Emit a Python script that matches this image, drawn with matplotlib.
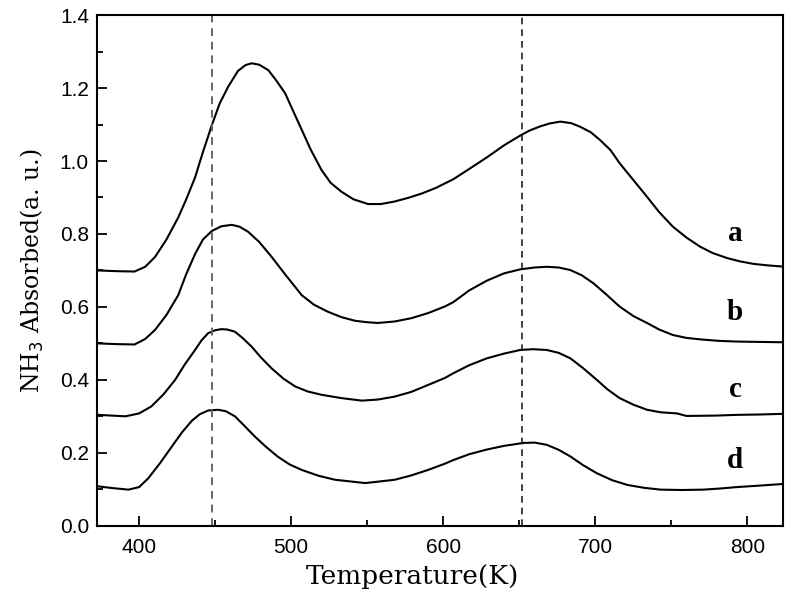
import numpy as np
import matplotlib.pyplot as plt
from matplotlib.ticker import MultipleLocator

plt.rcParams['font.family'] = 'sans-serif'
plt.rcParams['font.sans-serif'] = ['Liberation Sans', 'Arial', 'DejaVu Sans']

# temperature (K) and absorbed NH3 for the four samples
temp_a = [373, 385, 397, 404, 410.5, 418, 425.7, 431, 436.8, 442, 447.8, 453, 458.6, 465, 470, 474,
          479, 485, 490, 496, 501, 507, 513, 520, 526, 533, 541, 550.6, 559, 568, 577, 586, 595,
          606.6, 617, 628.7, 640, 650.7, 657, 663.8, 670, 677, 684, 690, 697, 703, 710, 716, 725,
          734, 742, 751, 760, 769, 777, 786.6, 795, 804, 813, 825]
nh3_a = [0.70, 0.698, 0.697, 0.71, 0.737, 0.785, 0.845, 0.895, 0.955, 1.025, 1.098, 1.158, 1.204,
         1.247, 1.263, 1.268, 1.264, 1.249, 1.222, 1.186, 1.14, 1.085, 1.03, 0.975, 0.94, 0.916,
         0.895, 0.882, 0.882, 0.889, 0.899, 0.911, 0.926, 0.95, 0.978, 1.01, 1.043, 1.07, 1.084,
         1.095, 1.103, 1.108, 1.104, 1.094, 1.079, 1.058, 1.03, 0.994, 0.948, 0.902, 0.86, 0.820,
         0.79, 0.765, 0.748, 0.734, 0.725, 0.718, 0.714, 0.710]

temp_b = [373, 385, 397, 404, 410.5, 418, 425.7, 431, 436.8, 442, 447.8, 454, 461, 466, 471.7, 479,
          487, 497, 507, 515, 524, 533, 542, 550, 557, 568, 579, 590, 601, 606.6, 617, 628.7, 640,
          650.7, 660, 668, 676, 683.6, 691, 698.7, 707, 716, 725, 734, 742, 751, 760, 769, 781, 793,
          808, 825]
nh3_b = [0.50, 0.498, 0.497, 0.512, 0.537, 0.578, 0.632, 0.69, 0.745, 0.785, 0.808, 0.821, 0.825,
         0.82, 0.806, 0.778, 0.738, 0.684, 0.632, 0.606, 0.587, 0.572, 0.562, 0.558, 0.556, 0.56,
         0.569, 0.583, 0.601, 0.613, 0.645, 0.672, 0.692, 0.703, 0.708, 0.710, 0.708, 0.701, 0.687,
         0.665, 0.635, 0.601, 0.575, 0.556, 0.538, 0.523, 0.515, 0.511, 0.507, 0.505, 0.504, 0.503]

temp_c = [373, 382, 391, 400, 408, 416, 423.7, 430, 436.8, 441, 445.4, 450, 454, 458, 463, 468, 474,
          480, 487, 495, 502.6, 511, 520, 533, 546.5, 557, 568, 579, 590, 601, 606.6, 617, 628.7,
          640, 650.7, 659, 668, 676, 683.6, 692, 701, 708, 716, 725, 734, 743, 753.7, 760, 779,
          793, 808, 825]
nh3_c = [0.304, 0.302, 0.300, 0.308, 0.327, 0.36, 0.40, 0.442, 0.482, 0.508, 0.528, 0.536, 0.539,
         0.538, 0.532, 0.515, 0.491, 0.462, 0.432, 0.403, 0.382, 0.368, 0.359, 0.35, 0.343, 0.346,
         0.354, 0.367, 0.386, 0.405, 0.418, 0.44, 0.459, 0.472, 0.482, 0.484, 0.482, 0.474, 0.459,
         0.432, 0.40, 0.374, 0.35, 0.332, 0.318, 0.311, 0.308, 0.301, 0.302, 0.304, 0.305, 0.307]

temp_d = [373, 383, 393, 400, 406, 414, 421.5, 428, 434.7, 440, 445.4, 452, 457, 463, 469, 476, 483,
          491, 499, 507, 518, 529, 548.7, 568, 579, 590, 601, 606.6, 617, 628.7, 640, 652.6, 660,
          668, 676, 683.6, 692, 701, 711, 721, 732, 743, 757, 771, 782, 793, 808, 825]
nh3_d = [0.108, 0.103, 0.099, 0.106, 0.13, 0.173, 0.217, 0.255, 0.288, 0.306, 0.316, 0.318, 0.314,
         0.30, 0.275, 0.245, 0.218, 0.19, 0.168, 0.153, 0.137, 0.126, 0.117, 0.126, 0.138, 0.153,
         0.17, 0.18, 0.196, 0.209, 0.219, 0.227, 0.228, 0.222, 0.208, 0.19, 0.166, 0.144, 0.125,
         0.112, 0.104, 0.099, 0.098, 0.099, 0.102, 0.106, 0.11, 0.115]

labels = ['a', 'b', 'c', 'd']
label_y = [0.80, 0.584, 0.373, 0.18]
peak_lines = [448, 652]

fig = plt.figure(figsize=(7.91, 6.05), dpi=100)
ax = fig.add_axes([0.123, 0.131, 0.867, 0.844])

for t, v in [(temp_a, nh3_a), (temp_b, nh3_b), (temp_c, nh3_c), (temp_d, nh3_d)]:
    ax.plot(t, v, color='black', lw=1.5)

ax.axvline(peak_lines[0], color='#666666', ls='--', lw=1.4, dashes=(4, 3))
ax.axvline(peak_lines[1], color='#222222', ls='--', lw=1.2, dashes=(4, 3))

for lab, y in zip(labels, label_y):
    ax.text(792, y, lab, fontsize=21, fontweight='bold', family='Liberation Serif',
            ha='center', va='center')

ax.set_xlim(372.5, 823.5)
ax.set_ylim(0, 1.4)
ax.xaxis.set_major_locator(MultipleLocator(100))
ax.xaxis.set_minor_locator(MultipleLocator(50))
ax.yaxis.set_major_locator(MultipleLocator(0.2))
ax.yaxis.set_minor_locator(MultipleLocator(0.1))
ax.yaxis.set_major_formatter(plt.FuncFormatter(lambda v, p: '%.1f' % v))
ax.tick_params(which='both', direction='in', labelsize=15, width=1.3)
ax.tick_params(which='major', length=7)
ax.tick_params(axis='x', which='major', pad=9)
ax.tick_params(axis='y', which='major', pad=6)
ax.tick_params(which='minor', length=4)
for s in ax.spines.values():
    s.set_linewidth(1.5)

ax.set_xlabel('Temperature(K)', family='DejaVu Serif', fontsize=19)
ax.xaxis.set_label_coords(0.46, -0.074)
ax.set_ylabel(r'NH$_3$ Absorbed(a. u.)', family='DejaVu Serif', fontsize=17)
ax.yaxis.set_label_coords(-0.075, 0.5)

fig.savefig('out.png', dpi=100)
